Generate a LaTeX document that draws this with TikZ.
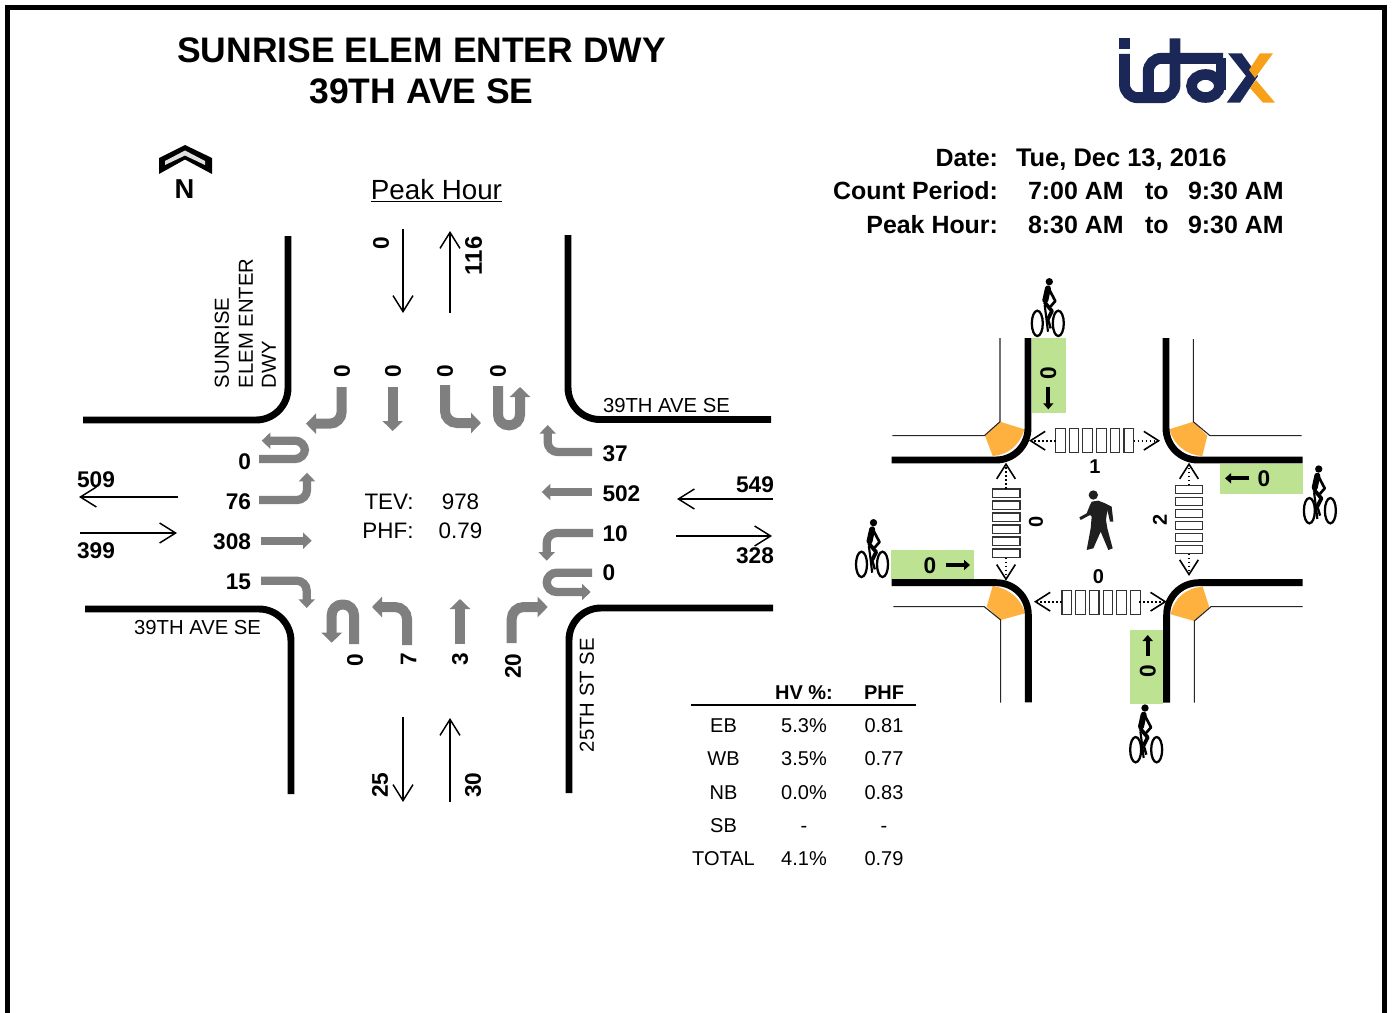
\documentclass[tikz,border=0pt]{standalone}
\usepackage{fontspec}
\setmainfont{Liberation Sans}
\usetikzlibrary{arrows.meta}
\definecolor{ggrey}{HTML}{7F7F7F}
\definecolor{gorange}{HTML}{FFB13F}
\definecolor{ggreen}{HTML}{BCE292}
\definecolor{gnavy}{HTML}{1A2757}
\definecolor{lorange}{HTML}{F7A11A}
\tikzset{
 every node/.style={inner sep=0pt,outer sep=0pt},
 bl/.style={font=\fontsize{17}{17}\selectfont\bfseries},
 sl/.style={font=\fontsize{15}{15}\selectfont\bfseries},
 hd/.style={font=\fontsize{18.7}{18.7}\selectfont\bfseries},
 ttl/.style={font=\fontsize{26.6}{26.6}\selectfont\bfseries},
 tb/.style={font=\fontsize{15}{15}\selectfont},
 tbh/.style={font=\fontsize{15}{15}\selectfont\bfseries},
 rd/.style={font=\fontsize{15.2}{15.2}\selectfont},
 tv/.style={font=\fontsize{16.8}{16.8}\selectfont},
 rot/.style={rotate=90},
 road/.style={line width=5.2pt,rounded corners=24pt,line cap=butt},
 thinl/.style={line width=0.8pt,color=black!85},
 vola/.style={line width=1.1pt,-{Straight Barb[length=12pt,width=15pt,line width=1.1pt]}},
 garV/.style={draw=ggrey,line width=7.5pt,rounded corners=9pt,-{Triangle[length=7.5pt,width=15pt]}},
 garH/.style={draw=ggrey,line width=6.2pt,rounded corners=7.5pt,-{Triangle[length=6.5pt,width=12pt]}},
 blka/.style={line width=3pt,-{Triangle[length=4.5pt,width=7.5pt]}},
 walk/.style={dash pattern=on 1.3pt off 1.7pt,line width=1.3pt,-{Straight Barb[length=11pt,width=14pt,line width=1.2pt]}},
 zebra/.style={draw=black!80,line width=0.8pt,fill=white},
}
\newcommand{\bikeicon}[3]{%
 \begin{scope}[shift={(#1,#2)},x=0.25pt,y=-0.25pt]
  \fill (0,0) circle (11);
  \draw[line width=1.7pt] ({-36+#3},125) ellipse (16.5 and 38);
  \draw[line width=1.7pt] ({27+#3},125) ellipse (16.5 and 38);
  \draw[line width=4.5pt,line cap=round] (-4,20) -- (-12,56);
  \draw[line width=2pt,line cap=round,line join=round] (0,24) -- (18,58) -- (4,74);
  \draw[line width=2.8pt,line join=round] (-14,62) -- (8,88) -- (-4,112);
  \draw[line width=1.8pt] (-4,112) -- (4,140);
  \draw[line width=1.6pt] (-14,70) -- (-10,100) -- (-4,150);
 \end{scope}}
\newcommand{\hzebra}[2]{%
 \foreach \i in {0,...,5} \draw[zebra] ({#1+\i*13.7},#2) rectangle ({#1+\i*13.7+9.6},{#2+24});}
\newcommand{\vzebra}[2]{%
 \foreach \i in {0,...,5} \draw[zebra] (#1,{#2+\i*12}) rectangle ({#1+27.5},{#2+\i*12+8.4});}
\begin{document}
\begin{tikzpicture}[x=0.75pt,y=-0.75pt]
\useasboundingbox (0,0) rectangle (1392,1013);
\fill[white] (0,0) rectangle (1392,1013);
% frame
\draw[line width=3.75pt,miter limit=10] (7.5,1013) -- (7.5,7.5) -- (1384.5,7.5) -- (1384.5,1013);
% title
\node[ttl] (t1) at (421.5,50) {SUNRISE ELEM ENTER DWY};
\node[ttl] (t2) at (421.5,91) {39TH AVE SE};
% north
\fill (185,145) -- (212,158) -- (212,174) -- (185,159.5) -- (159,174) -- (159,158) -- cycle;
\fill[black!12] (185,150.5) -- (205,161) -- (205,165) -- (185,155.5) -- (165,165) -- (165,161) -- cycle;
\node[font=\fontsize{20.5}{20.5}\selectfont\bfseries] (north) at (184.5,189) {N};
\node[font=\fontsize{20.8}{20.8}\selectfont,anchor=base] (peak) at (436.5,199.5) {\underline{Peak Hour}};
% info
\node[hd,anchor=base east] (d1) at (998,167) {Date:};
\node[hd,anchor=base east] (d2) at (998,199.4) {Count Period:};
\node[hd,anchor=base east] (d3) at (998,233.4) {Peak Hour:};
\node[font=\fontsize{19.1}{19.1}\selectfont\bfseries,anchor=base west] (d4) at (1016,167) {Tue, Dec 13, 2016};
\node[hd,anchor=base west] (d5) at (1028,199.4) {7:00 AM};
\node[hd,anchor=base west] (d6) at (1145,199.4) {to};
\node[hd,anchor=base west] (d7) at (1188,199.4) {9:30 AM};
\node[hd,anchor=base west] (d8) at (1028,233.4) {8:30 AM};
\node[hd,anchor=base west] (d9) at (1145,233.4) {to};
\node[hd,anchor=base west] (d10) at (1188,233.4) {9:30 AM};
% logo
\begin{scope}
 \fill[gnavy] (1119,38.3) rectangle (1130,49);
 \draw[gnavy,line width=8.2pt,rounded corners=10pt] (1124.5,54) -- (1124.5,97.7) -- (1175,97.7) -- (1175,38.3);
 \draw[gnavy,line width=8.2pt,rounded corners=10pt] (1148.3,96) -- (1148.3,58.3) -- (1223,58.3);
 \draw[gnavy,line width=8pt] (1205.5,86) ellipse (14 and 11.5);
 \draw[gnavy,line width=7.5pt] (1220.5,58) -- (1220.5,90);
 \fill[gnavy] (1228,53.3) -- (1241.7,53.3) -- (1258,76) -- (1240,102.7) -- (1226.7,102.7) -- (1246,76) -- cycle;
 \fill[lorange] (1260,53.3) -- (1273,53.3) -- (1255,78) -- (1249,70) -- cycle;
 \fill[lorange] (1256,80) -- (1275,102.7) -- (1263,102.7) -- (1250,88) -- cycle;
\end{scope}
% roads left diagram
\draw[road] (288,236) -- (288,420) -- (83,420);
\draw[road] (568,235) -- (568,419.5) -- (771,419.5);
\draw[road] (85,609) -- (291,609) -- (291,794);
\draw[road] (569,793) -- (569,608) -- (773,608);
% road labels
\node[rd,rot,anchor=west] (r1) at (222,388) {SUNRISE};
\node[rd,rot,anchor=west] (r2) at (246,388) {ELEM ENTER};
\node[rd,rot,anchor=west] (r3) at (269,388) {DWY};
\node[rd,anchor=west] (r4) at (603,406) {39TH AVE SE};
\node[rd,anchor=east] (r5) at (261,628) {39TH AVE SE};
\node[rd,rot,anchor=west] (r6) at (587,752) {25TH ST SE};
% volume arrows
\draw[vola] (403,229) -- (403,313);
\draw[vola] (450,313) -- (450,231);
\draw[vola] (178,497) -- (79,497);
\draw[vola] (80,533) -- (177,533);
\draw[vola] (773,499) -- (677,499);
\draw[vola] (676,536) -- (772,536);
\draw[vola] (403,717) -- (403,802);
\draw[vola] (450,802) -- (450,718);
\node[bl,rot] (v1) at (381,243) {0};
\node[font=\fontsize{18}{18}\selectfont\bfseries,rot] (v2) at (473.5,256) {116};
\node[bl] (v3) at (96,480) {509};
\node[bl] (v4) at (96,551) {399};
\node[bl] (v5) at (755,485) {549};
\node[bl] (v6) at (755,556) {328};
\node[bl,rot] (v7) at (380,785) {25};
\node[bl,rot] (v8) at (473,785) {30};
% grey arrows south-bound
\draw[garV] (341.7,387) -- (341.7,423.7) -- (306,423.7);
\draw[garV] (392.7,387) -- (392.7,431);
\draw[garV] (445,385) -- (445,423) -- (481,423);
\draw[garV,rounded corners=8pt] (498,386) -- (498,425.3) -- (520,425.3) -- (520,387);
% west-bound
\draw[garH] (592,452) -- (547.7,452) -- (547.7,425);
\draw[garH] (592,492) -- (541.7,492);
\draw[garH] (593,533) -- (546.7,533) -- (546.7,560.7);
\draw[garH] (592,572.7) -- (546.7,572.7) -- (546.7,592) -- (590.7,592);
% east-bound
\draw[garH] (259,459) -- (305,459) -- (305,440.7) -- (261.7,440.7);
\draw[garH] (259,500) -- (307,500) -- (307,472.7);
\draw[garH] (260.7,540.7) -- (311.7,540.7);
\draw[garH] (261,580.7) -- (306.7,580.7) -- (306.7,608);
% north-bound
\draw[garV,rounded corners=8pt] (354,644) -- (354,604.5) -- (331.7,604.5) -- (331.7,642.7);
\draw[garV] (407,645) -- (407,607) -- (372,607);
\draw[garV] (460,644) -- (460,599);
\draw[garV] (511.7,643) -- (511.7,607) -- (547.7,607);
% turn counts
\node[bl,rot] (c1) at (342,371) {0};
\node[bl,rot] (c2) at (393,371) {0};
\node[bl,rot] (c3) at (445,371) {0};
\node[bl,rot] (c4) at (498,371) {0};
\node[bl,anchor=east] (c5) at (251,461.5) {0};
\node[bl,anchor=east] (c6) at (251,501.5) {76};
\node[bl,anchor=east] (c7) at (251,541.5) {308};
\node[bl,anchor=east] (c8) at (251,581.5) {15};
\node[bl,anchor=west] (c9) at (602.5,453.5) {37};
\node[bl,anchor=west] (c10) at (602.5,493.5) {502};
\node[bl,anchor=west] (c11) at (602.5,533.5) {10};
\node[bl,anchor=west] (c12) at (602.5,573) {0};
\node[bl,rot] (c13) at (355,660) {0};
\node[bl,rot] (c14) at (408.5,659.5) {7};
\node[bl,rot] (c15) at (460,659.5) {3};
\node[bl,rot] (c16) at (513,666) {20};
% TEV
\node[tv,anchor=base east] (tv1) at (413.5,509) {TEV:};
\node[tv,anchor=base] (tv2) at (460.5,509) {978};
\node[tv,anchor=base east] (tv3) at (413.5,538) {PHF:};
\node[tv,anchor=base] (tv4) at (460.5,538) {0.79};
% table
\draw[line width=1.5pt] (691,705) -- (916,705);
\node[tbh] (h1) at (804,692.5) {HV \%:};
\node[tbh] (h2) at (884,692.5) {PHF};
\foreach \y/\a/\b/\c [count=\n] in {725.5/EB/5.3\%/0.81,758.5/WB/3.5\%/0.77,792.5/NB/0.0\%/0.83,825.5/SB/-/-,858.5/TOTAL/4.1\%/0.79}{
 \node[tb] (ta\n) at (723.5,\y) {\a};
 \node[tb] (tb\n) at (804,\y) {\vphantom{0}\b};
 \node[tb] (tc\n) at (884,\y) {\vphantom{0}\c};
}
% right diagram: greens
\fill[ggreen] (1032,338) rectangle (1066,412.7);
\fill[ggreen] (1220,464) rectangle (1302.7,493.7);
\fill[ggreen] (891,550) rectangle (974,579);
\fill[ggreen] (1130,630) rectangle (1163,703.7);
% oranges
\fill[gorange] (1000,421.7) -- (1024.3,429.3) .. controls (1020,445) and (1008,455) .. (992.7,456) -- (985,435.7) -- cycle;
\fill[gorange] (1193.3,421.7) -- (1169.3,429.3) .. controls (1174,445) and (1186,455) .. (1202.3,456) -- (1207.3,435.7) -- cycle;
\fill[gorange] (992.7,586) .. controls (1008,588) and (1021,598) .. (1025,613.3) -- (1000.7,620) -- (986.7,606.7) -- cycle;
\fill[gorange] (1202.7,586.7) -- (1209.3,607.3) -- (1194.3,621) -- (1170.7,614.3) .. controls (1174,598) and (1186,588) .. (1202.7,586.7) -- cycle;
% curbs
\draw[road] (1028,338) -- (1028,460) -- (891.7,460);
\draw[road] (1166,338) -- (1166,460) -- (1302.7,460);
\draw[road] (891.7,582.7) -- (1028.3,582.7) -- (1028.3,702.3);
\draw[road] (1166.7,702.7) -- (1166.7,582.7) -- (1302.7,582.7);
\draw[thinl] (1000,338) -- (1000,421.7) -- (984.3,435.7) -- (892.3,435.7);
\draw[thinl] (1193.3,339) -- (1193.3,421.7) -- (1210,435.7) -- (1301.7,435.7);
\draw[thinl] (893.3,606.7) -- (984.3,606.7) -- (1000.7,620) -- (1000.7,702.7);
\draw[thinl] (1194.3,702.7) -- (1194.3,621) -- (1211,606.7) -- (1302.7,606.7);
% crosswalks
\hzebra{1055.5}{428.5}
\hzebra{1062}{590.7}
\vzebra{992.5}{489}
\vzebra{1175.3}{485.3}
\draw[walk] (1055.5,440.7) -- (1029,440.7);
\draw[walk] (1133.5,440.7) -- (1160,440.7);
\draw[walk] (1062,601.7) -- (1034,601.7);
\draw[walk] (1139,601.7) -- (1166.7,601.7);
\draw[walk] (1006,489) -- (1006,462.7);
\draw[walk] (1006,557.7) -- (1006,580.7);
\draw[walk] (1189,485.3) -- (1189,462.7);
\draw[walk] (1189,553.7) -- (1189,576);
% ped counts
\node[sl] (p1) at (1095,467) {1};
\node[sl] (p2) at (1098.5,577) {0};
\node[sl,rot] (p3) at (1036,522) {0};
\node[sl,rot] (p4) at (1160,520) {2};
% bike counts
\node[bl,rot] (b1) at (1048.3,373) {0};
\draw[blka] (1048.3,387.3) -- (1048.3,409.3);
\node[bl] (b2) at (1264,479) {0};
\draw[blka] (1249,478.3) -- (1225,478.3);
\node[bl] (b3) at (930,565.5) {0};
\draw[blka] (945.7,565) -- (970,565);
\node[bl,rot] (b4) at (1147.7,670.7) {0};
\draw[blka] (1147.7,655.7) -- (1147.7,635);
% bikes
\bikeicon{1049.3}{281.7}{0}
\bikeicon{1318.7}{469}{8}
\bikeicon{873.5}{522.7}{0}
\bikeicon{1145}{708}{8}
% pedestrian
\begin{scope}[shift={(1070,485)},x=0.25pt,y=-0.25pt]
 \fill[black!88] (70,30) circle (14);
 \fill[black!88] (65,50) -- (85,47) -- (105,55) -- (125,65) -- (130,110) -- (120,110) -- (112,75) -- (108,105) -- (112,130) -- (128,190) -- (115,195) -- (92,140) -- (70,190) -- (50,195) -- (62,130) -- (65,95) -- (60,90) -- (32,105) -- (28,97) -- (50,85) -- (60,60) -- cycle;
\end{scope}
\end{tikzpicture}
\end{document}
